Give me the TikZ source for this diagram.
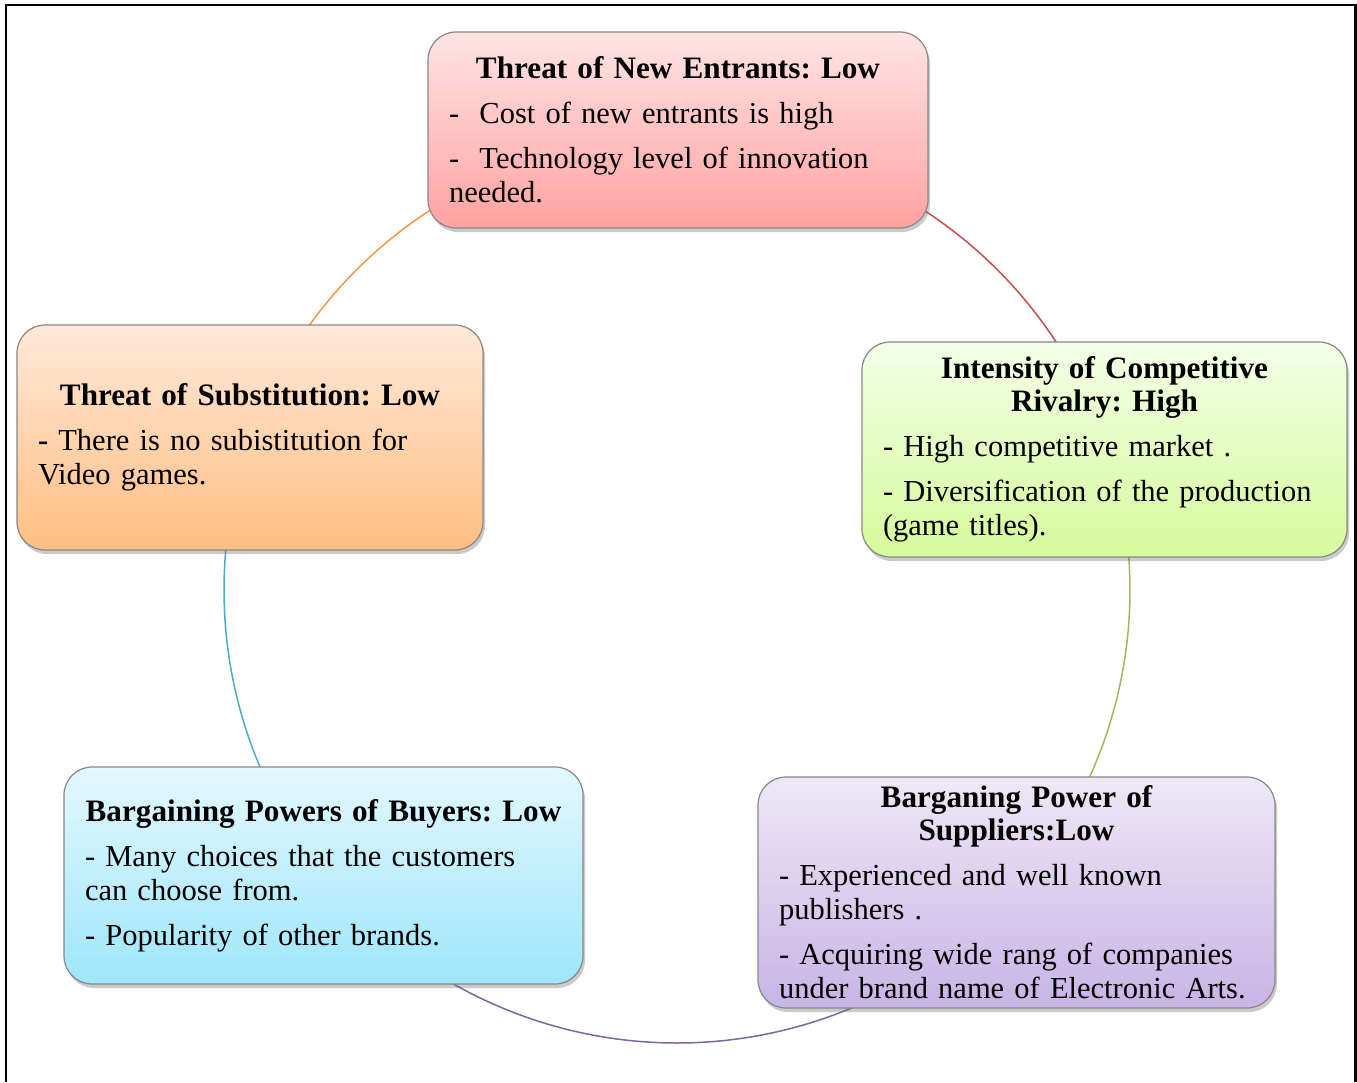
\documentclass[tikz,border=0pt]{standalone}
\usepackage{fontspec}
\setmainfont{Liberation Serif}
\usetikzlibrary{shadows}
\definecolor{boxline}{RGB}{135,135,135}
\definecolor{pinkT}{RGB}{255,228,228}
\definecolor{pinkB}{RGB}{255,162,162}
\definecolor{oranT}{RGB}{255,233,218}
\definecolor{oranB}{RGB}{255,190,130}
\definecolor{greenT}{RGB}{243,255,232}
\definecolor{greenB}{RGB}{214,250,155}
\definecolor{blueT}{RGB}{228,248,255}
\definecolor{blueB}{RGB}{158,230,250}
\definecolor{purpT}{RGB}{238,232,246}
\definecolor{purpB}{RGB}{200,180,230}
\definecolor{arcorange}{RGB}{247,150,70}
\definecolor{arcred}{RGB}{192,80,77}
\definecolor{arcgreen}{RGB}{155,187,89}
\definecolor{arcpurple}{RGB}{128,100,162}
\definecolor{arcblue}{RGB}{75,172,198}
\newcommand{\boxsetup}{\frenchspacing\setlength\parskip{11pt}\setlength\parindent{0pt}\raggedright}
\newcommand{\boxtitle}{\centering\bfseries\fontsize{31.2}{33}\selectfont}
\begin{document}
\begin{tikzpicture}[x=1pt,y=1pt,
  box/.style={draw=boxline, line width=1.2pt, rounded corners=28pt,
    inner xsep=21pt, inner ysep=0pt,
    font=\fontsize{30.5}{34}\selectfont,
    drop shadow={shadow xshift=2pt, shadow yshift=-4pt, opacity=0.35, fill=black!60}},
  ring/.style={line width=1.5pt}]
\useasboundingbox (0,0) rectangle (1357,-1082);
\draw[line width=2.5pt] (6,-1082) -- (6,-5) -- (1355.5,-5) -- (1355.5,-1082);
\coordinate (c) at (677,-590);
\draw[ring,arcorange] (c) ++(160:453) arc[start angle=160,end angle=90,radius=453];
\draw[ring,arcred] (c) ++(90:453) arc[start angle=90,end angle=18.4,radius=453];
\draw[ring,arcgreen] (c) ++(18.4:453) arc[start angle=18.4,end angle=-41.5,radius=453];
\draw[ring,arcpurple] (c) ++(-41.5:453) arc[start angle=-41.5,end angle=-141.2,radius=453];
\draw[ring,arcblue] (c) ++(-141.2:453) arc[start angle=-141.2,end angle=-200,radius=453];

\node[box, minimum width=500pt, minimum height=196pt, text width=458pt,
  top color=pinkT, bottom color=pinkB] (entrants) at (678,-130)
  {\boxsetup
   {\boxtitle Threat of New Entrants: Low\par}
   \mbox{-\ \ Cost of new entrants is high}\par
   \mbox{-\ \ Technology level of innovation}\\needed.\par};

\node[box, minimum width=466pt, minimum height=225pt, text width=424pt,
  top color=oranT, bottom color=oranB] (subst) at (250,-437.5)
  {\boxsetup
   {\boxtitle Threat of Substitution: Low\par}
   \mbox{\textbf{-} There is no subistitution for}\\Video games.\par};

\node[box, minimum width=485pt, minimum height=215pt, text width=443pt,
  top color=greenT, bottom color=greenB] (rivalry) at (1104.5,-449.5)
  {\boxsetup
   {\boxtitle Intensity of Competitive\\Rivalry: High\par}
   \mbox{- High competitive market .}\par
   \mbox{- Diversification of the production}\\(game titles).\par};

\node[box, minimum width=519pt, minimum height=217pt, text width=477pt,
  top color=blueT, bottom color=blueB] (buyers) at (323.5,-875.5)
  {\boxsetup
   {\boxtitle\makebox[\linewidth][c]{Bargaining Powers of Buyers: Low}\par}
   \mbox{- Many choices that the customers}\\can choose from.\par
   \mbox{- Popularity of other brands.}\par};

\node[box, minimum width=517pt, minimum height=231pt, text width=475pt,
  top color=purpT, bottom color=purpB] (suppliers) at (1016.5,-892.5)
  {\boxsetup
   {\boxtitle Barganing Power of\\Suppliers:Low\par}
   \mbox{- Experienced and well known}\\publishers .\par
   \mbox{- Acquiring wide rang of companies}\\\mbox{under brand name of Electronic Arts.}\par};
\end{tikzpicture}
\end{document}
